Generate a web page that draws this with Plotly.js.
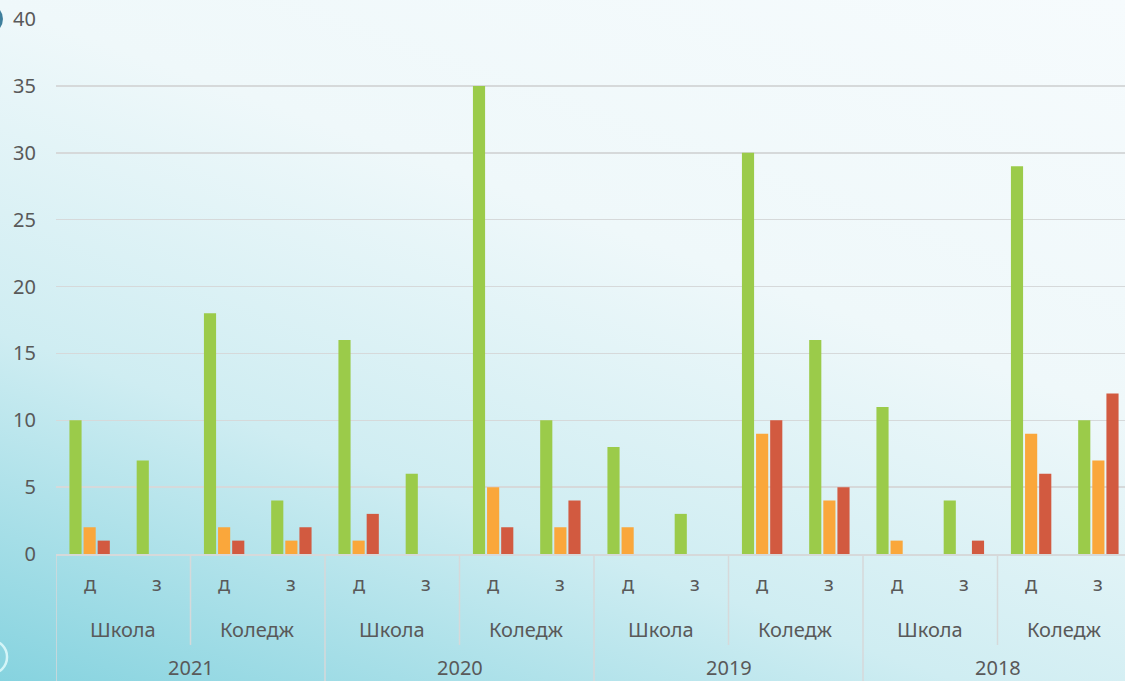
<!DOCTYPE html>
<html>
<head>
<meta charset="utf-8">
<script src="https://cdn.plot.ly/plotly-3.0.1.min.js"></script>
<style>
  html, body { margin: 0; padding: 0; overflow: hidden; }
  body {
    width: 1125px; height: 681px;
    background: linear-gradient(200deg, #f6fbfd 0%, #eff8fa 38%, #cfedf2 68%, #86d3df 100%);
  }
  #graph { width: 1134px; height: 681px; }
</style>
</head>
<body>
<div id="graph"></div>
<script>
// ---------- DATA ----------
const years = ["2021", "2020", "2019", "2018"];
const types = ["Школа", "Коледж"];
const forms = ["д", "з"];

// order: year -> type -> form
const green  = [10, 7, 18, 4,  16, 6, 35, 10,  8, 3, 30, 16,  11, 4, 29, 10];
const orange = [2, 0, 2, 1,    1, 0, 5, 2,     2, 0, 9, 4,    1, 0, 9, 7];
const red    = [1, 0, 1, 2,    3, 0, 2, 4,     0, 0, 10, 5,   0, 1, 6, 12];

const colors = ["#9BCB4A", "#FAA73B", "#D25A40"];
const textColor = "#595959";
const lineColor = "#d6d9da";

// category keys built from the three levels
let cats = [];
years.forEach(y => types.forEach(t => forms.forEach(f => cats.push(y + " " + t + " " + f))));

// ---------- TRACES ----------
const traces = [green, orange, red].map((vals, i) => ({
  x: cats,
  y: vals,
  type: "bar",
  marker: { color: colors[i], line: { width: 0 } },
  hoverinfo: "y"
}));

// ---------- AXIS LABELS (3 levels) ----------
let annotations = [];
let shapes = [];
const font = { family: "Noto Sans, sans-serif", size: 20, color: textColor };

cats.forEach((c, i) => {
  annotations.push({
    x: i, y: -0.055, xref: "x", yref: "paper", text: forms[i % 2],
    showarrow: false, font: font, yanchor: "middle"
  });
});
for (let k = 0; k < years.length * types.length; k++) {
  annotations.push({
    x: k * 2 + 0.5, y: -0.141, xref: "x", yref: "paper", text: types[k % 2],
    showarrow: false, font: font, yanchor: "middle"
  });
  // separator between type groups
  const isYear = k % 2 === 0;
  shapes.push({
    type: "line", xref: "x", yref: "paper",
    x0: k * 2 - 0.5, x1: k * 2 - 0.5, y0: 0, y1: isYear ? -0.3 : -0.17,
    line: { color: lineColor, width: 1.5 }
  });
}
years.forEach((y, i) => {
  annotations.push({
    x: i * 4 + 1.5, y: -0.213, xref: "x", yref: "paper", text: y,
    showarrow: false, font: font, yanchor: "middle"
  });
});

// slide decorations at left edge
shapes.push({
  type: "circle", xref: "paper", yref: "paper", layer: "above",
  x0: -0.0771, x1: -0.0493, y0: 0.972, y1: 1.028,
  fillcolor: "#3f7f9c", line: { width: 0 }
});
shapes.push({
  type: "circle", xref: "paper", yref: "paper", layer: "above",
  x0: -0.0771, x1: -0.0455, y0: -0.2243, y1: -0.1607,
  fillcolor: "rgba(0,0,0,0)", line: { color: "rgba(225,250,252,0.85)", width: 2.5 }
});

// ---------- LAYOUT ----------
const layout = {
  width: 1134,
  height: 681,
  margin: { l: 56, r: 2, t: 19, b: 127 },
  paper_bgcolor: "rgba(0,0,0,0)",
  plot_bgcolor: "rgba(0,0,0,0)",
  barmode: "group",
  bargap: 0.37,
  bargroupgap: 0.14,
  showlegend: false,
  font: font,
  xaxis: {
    type: "category",
    showticklabels: false,
    ticks: "",
    showgrid: false,
    showline: true,
    linecolor: lineColor,
    linewidth: 1.5,
    range: [-0.5, cats.length - 0.5],
    fixedrange: true
  },
  yaxis: {
    range: [0, 40],
    dtick: 5,
    tick0: 0,
    showgrid: true,
    gridcolor: lineColor,
    gridwidth: 1.5,
    zeroline: false,
    ticks: "",
    ticklabelstandoff: 19,
    tickfont: { family: "Noto Sans, sans-serif", size: 20, color: textColor },
    fixedrange: true
  },
  annotations: annotations,
  shapes: shapes
};

Plotly.newPlot("graph", traces, layout, { displayModeBar: false, staticPlot: true });
</script>
</body>
</html>
